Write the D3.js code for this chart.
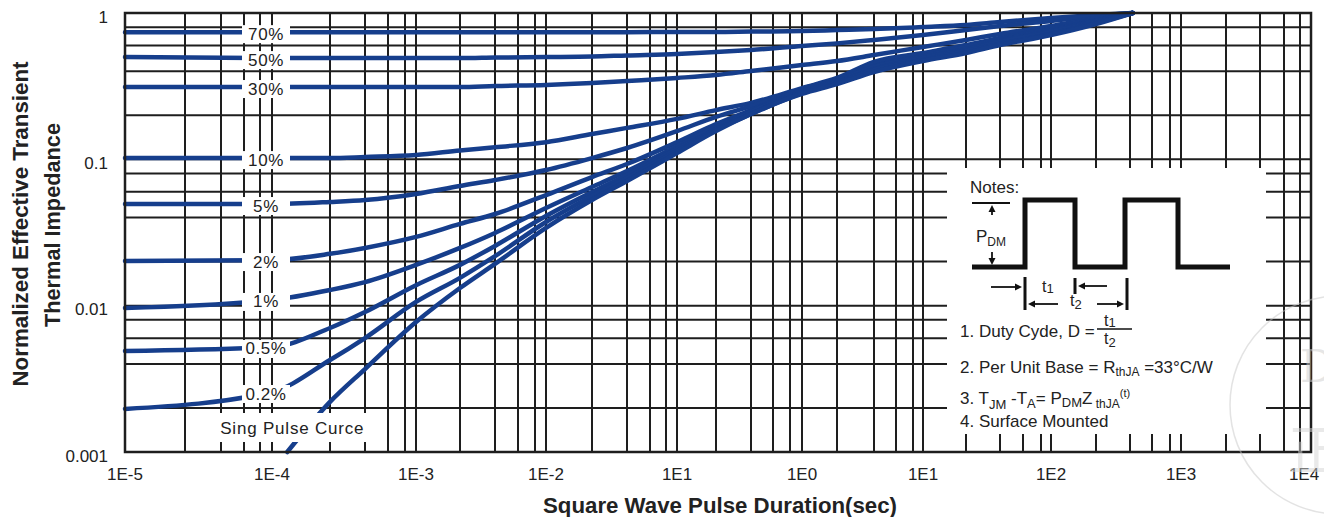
<!DOCTYPE html>
<html><head><meta charset="utf-8">
<script src="https://cdn.jsdelivr.net/npm/d3@7"></script>
<style>
html,body{margin:0;padding:0;background:#fff;}
svg{display:block;font-family:Arial,"Liberation Sans",sans-serif;}
</style></head><body>
<svg id="chart" width="1324" height="517"></svg>
<script>
// ---------------- DATA ----------------
const xTicks = [1e-5,1e-4,1e-3,1e-2,1e-1,1,10,100,1000,10000];
const xTickLabels = ["1E-5","1E-4","1E-3","1E-2","1E1","1E0","1E1","1E2","1E3","1E4"];
const yTicks = [1,0.1,0.01,0.001];
const yTickLabels = ["1","0.1","0.01","0.001"];
const gridMultipliers = [2,4,6,8];

const xs = [1e-5,1e-4,2e-4,4e-4,1e-3,2e-3,4e-3,1e-2,2e-2,4e-2,0.1,0.2,0.4,1,2,4,10,20,40,100,200,420];
const d70 = [0.74,0.74,0.74,0.74,0.74,0.74,0.74,0.74,0.74,0.74,0.742,0.742,0.747,0.753,0.765,0.777,0.802,0.828,0.868,0.924,0.97,1.0];
const d50 = [0.50,0.492,0.492,0.492,0.492,0.492,0.496,0.50,0.504,0.513,0.525,0.541,0.559,0.595,0.62,0.654,0.707,0.765,0.815,0.882,0.954,1.0];
const d30 = [0.312,0.312,0.312,0.312,0.312,0.312,0.317,0.322,0.332,0.343,0.36,0.377,0.402,0.441,0.47,0.516,0.586,0.654,0.719,0.815,0.924,1.0];
const d10 = [0.102,0.102,0.102,0.1037,0.107,0.115,0.121,0.131,0.149,0.164,0.189,0.217,0.243,0.307,0.36,0.463,0.533,0.604,0.675,0.79,0.91,1.0];
const d5  = [0.0495,0.0495,0.0511,0.0527,0.058,0.0658,0.0722,0.0845,0.102,0.1195,0.156,0.195,0.231,0.303,0.354,0.448,0.525,0.595,0.664,0.777,0.896,1.0];
const d2  = [0.0202,0.0205,0.0226,0.0248,0.0295,0.0362,0.0423,0.057,0.0757,0.0929,0.131,0.174,0.217,0.298,0.348,0.434,0.508,0.586,0.654,0.765,0.882,1.0];
const d1  = [0.00964,0.01094,0.0128,0.0145,0.019,0.0248,0.0314,0.0465,0.0647,0.0832,0.123,0.166,0.214,0.293,0.343,0.428,0.5,0.568,0.644,0.753,0.882,1.0];
const d05 = [0.0049,0.00522,0.00704,0.00905,0.0138,0.019,0.0256,0.041,0.0598,0.0782,0.118,0.161,0.211,0.288,0.338,0.414,0.492,0.559,0.634,0.742,0.868,1.0];
const d02 = [0.00197,0.00257,0.00425,0.00601,0.0106,0.0155,0.0218,0.0373,0.0561,0.0746,0.114,0.159,0.204,0.284,0.332,0.408,0.477,0.55,0.614,0.719,0.854,1.0];
const singleX = [1.2e-4,2e-4,4e-4,1e-3,2e-3,4e-3,1e-2,2e-2,4e-2,0.1,0.2,0.4,1,2,4,10,20,40,100,200,420];
const singleZ = [0.001,0.0022,0.00369,0.00773,0.0132,0.0193,0.034,0.0527,0.0711,0.1105,0.156,0.204,0.28,0.327,0.395,0.47,0.533,0.604,0.707,0.841,1.0];
const dutyLabels = ["70%","50%","30%","10%","5%","2%","1%","0.5%","0.2%"];
const singleLabel = "Sing Pulse Curce";

// ---------------- LAYOUT ----------------
const svg = d3.select("#chart");
const L = 125, R = 1311, T = 13, B = 452;
const lineColor = "#163e8c", gridColor = "#1e1e1e", textColor = "#222";

// x axis in the reference is a log axis with uneven spacing -> piecewise log scale
const xDomain = [];
xTicks.slice(0, -1).forEach(d => { xDomain.push(d); gridMultipliers.forEach(m => xDomain.push(m * d)); });
xDomain.push(xTicks[xTicks.length - 1]);
const xRange = [125,185,221,244,260, 272,330,365,388,405, 416,460,495,518,535, 546,592,627,650,666,
                677,716,751,773,790, 802,837,874,896,913, 923,966,1000,1023,1041, 1051,1096,1130,1152,1170,
                1181,1226,1260,1284,1300, 1311];
const x = d3.scaleLog().domain(xDomain).range(xRange);
const y = d3.scaleLog().domain([0.001, 1]).range([B, T]);

// grid
const gGrid = svg.append("g");
gGrid.selectAll("line.v").data(xDomain.slice(1, -1)).join("line")
  .attr("x1", d => x(d)).attr("x2", d => x(d)).attr("y1", T).attr("y2", B)
  .attr("stroke", gridColor).attr("stroke-width", 2);
const yGrid = [];
[0.001, 0.01, 0.1].forEach(d => { gridMultipliers.forEach(m => yGrid.push(m * d)); if (d > 0.001) yGrid.push(d); });
gGrid.selectAll("line.h").data(yGrid).join("line")
  .attr("x1", L).attr("x2", R).attr("y1", d => y(d)).attr("y2", d => y(d))
  .attr("stroke", gridColor).attr("stroke-width", 2);

// curves
const series = [d70, d50, d30, d10, d5, d2, d1, d05, d02].map((z, i) => ({label: dutyLabels[i], pts: xs.map((xv, j) => [xv, z[j]])}));
series.push({label: null, pts: singleX.map((xv, j) => [xv, singleZ[j]])});
const line = d3.line().x(d => x(d[0])).y(d => y(d[1])).curve(d3.curveMonotoneX);
svg.append("g").selectAll("path").data(series).join("path")
  .attr("d", d => line(d.pts)).attr("fill", "none")
  .attr("stroke", lineColor).attr("stroke-width", 4.5).attr("stroke-linecap", "round");

// curve labels
const lblX = x(1e-4);
const gLbl = svg.append("g");
series.filter(s => s.label).forEach(s => {
  const ly = y(s.pts[1][1]) + 2;
  gLbl.append("rect").attr("x", lblX - 30).attr("y", ly - 9).attr("width", 48).attr("height", 18).attr("fill", "#fff");
  gLbl.append("text").attr("x", lblX - 6).attr("y", ly).attr("text-anchor", "middle")
    .attr("dominant-baseline", "central").attr("font-size", 17).style("letter-spacing", "0.6px")
    .attr("fill", textColor).text(s.label);
});
const sx = x(singleX[0]) + 5, sy = y(singleZ[0]) - 24;
gLbl.append("rect").attr("x", sx - 80).attr("y", sy - 15).attr("width", 160).attr("height", 29).attr("fill", "#fff");
gLbl.append("text").attr("x", sx).attr("y", sy).attr("text-anchor", "middle")
  .attr("dominant-baseline", "central").attr("font-size", 17).style("letter-spacing", "0.8px")
  .attr("fill", textColor).text(singleLabel);

// notes box
const gN = svg.append("g").attr("fill", textColor).attr("font-size", 17);
gN.append("rect").attr("x", 947).attr("y", 168).attr("width", 319).attr("height", 266).attr("fill", "#fff");
gN.append("text").attr("x", 970).attr("y", 193).text("Notes:");
gN.append("path").attr("d", "M972,267H1025V200H1075V267H1125V200H1178V267H1230")
  .attr("fill", "none").attr("stroke", "#111").attr("stroke-width", 5);
gN.append("path").attr("d", "M972,203H1010").attr("stroke", "#111").attr("stroke-width", 2);
function arrow(x1, y1, x2, y2) {
  const a = Math.atan2(y2 - y1, x2 - x1), h = 7, w = 3.5;
  gN.append("line").attr("x1", x1).attr("y1", y1).attr("x2", x2 - Math.cos(a) * h * 0.6).attr("y2", y2 - Math.sin(a) * h * 0.6)
    .attr("stroke", "#111").attr("stroke-width", 1.8);
  const bx = x2 - Math.cos(a) * h, by = y2 - Math.sin(a) * h;
  gN.append("path").attr("d", `M${x2},${y2}L${bx - Math.sin(a) * w},${by + Math.cos(a) * w}L${bx + Math.sin(a) * w},${by - Math.cos(a) * w}Z`)
    .attr("fill", "#111");
}
arrow(992, 215, 992, 205);
arrow(992, 252, 992, 265);
const pdm = gN.append("text").attr("x", 976).attr("y", 242);
pdm.append("tspan").text("P");
pdm.append("tspan").attr("font-size", 12).attr("dy", 4).text("DM");
[[1025, 277, 310], [1075, 278, 294], [1127, 278, 310]].forEach(b =>
  gN.append("line").attr("x1", b[0]).attr("x2", b[0]).attr("y1", b[1]).attr("y2", b[2]).attr("stroke", "#111").attr("stroke-width", 3));
arrow(991, 287, 1022, 287);
arrow(1058, 304, 1028, 304);
arrow(1107, 286, 1078, 286);
arrow(1097, 304, 1124, 304);
const t1 = gN.append("text").attr("x", 1042).attr("y", 292).attr("font-size", 16);
t1.append("tspan").text("t"); t1.append("tspan").attr("font-size", 13).attr("dy", 1).text("1");
const t2 = gN.append("text").attr("x", 1070).attr("y", 306).attr("font-size", 16);
t2.append("tspan").text("t"); t2.append("tspan").attr("font-size", 13).attr("dy", 3).text("2");
gN.append("text").attr("x", 960).attr("y", 337).text("1. Duty Cyde, D =");
const f1 = gN.append("text").attr("x", 1104).attr("y", 326).attr("font-size", 16);
f1.append("tspan").text("t"); f1.append("tspan").attr("font-size", 13).attr("dy", 1).text("1");
gN.append("line").attr("x1", 1097).attr("x2", 1132).attr("y1", 329).attr("y2", 329).attr("stroke", "#111").attr("stroke-width", 1.5);
const f2 = gN.append("text").attr("x", 1104).attr("y", 344).attr("font-size", 16);
f2.append("tspan").text("t"); f2.append("tspan").attr("font-size", 13).attr("dy", 3).text("2");
const n2 = gN.append("text").attr("x", 960).attr("y", 373);
n2.append("tspan").text("2. Per Unit Base = R");
n2.append("tspan").attr("font-size", 12).attr("dy", 3).text("thJA");
n2.append("tspan").attr("dy", -3).text(" =33°C/W");
const n3 = gN.append("text").attr("x", 960).attr("y", 404);
n3.append("tspan").text("3. T");
n3.append("tspan").attr("font-size", 13).attr("dy", 5).text("JM");
n3.append("tspan").attr("dy", -5).text(" -T");
n3.append("tspan").attr("font-size", 13).attr("dy", 4).text("A");
n3.append("tspan").attr("dy", -4).text("= P");
n3.append("tspan").attr("font-size", 13).attr("dy", 3).text("DM");
n3.append("tspan").attr("dy", -3).text("Z");
n3.append("tspan").attr("font-size", 12).attr("dy", 4).text(" thJA");
n3.append("tspan").attr("font-size", 11).attr("dy", -11).text("(t)");
gN.append("text").attr("x", 960).attr("y", 427).text("4. Surface Mounted");

// frame
svg.append("rect").attr("x", L).attr("y", T).attr("width", R - L).attr("height", B - T)
  .attr("fill", "none").attr("stroke", gridColor).attr("stroke-width", 2.5);

// tick labels
svg.append("g").selectAll("text").data(xTicks).join("text")
  .attr("x", d => Math.min(x(d), 1304)).attr("y", 474).attr("text-anchor", "middle").attr("dominant-baseline", "central")
  .attr("font-size", 17).attr("fill", textColor).text((d, i) => xTickLabels[i]);
svg.append("g").selectAll("text").data(yTicks).join("text")
  .attr("x", 108).attr("y", d => y(d) + 4).attr("text-anchor", "end").attr("dominant-baseline", "central")
  .attr("font-size", 17).attr("fill", textColor).text((d, i) => yTickLabels[i]);

// axis titles
svg.append("text").attr("transform", "translate(28,224) rotate(-90)").attr("text-anchor", "middle")
  .attr("font-size", 22).attr("font-weight", "bold").attr("fill", textColor)
  .attr("textLength", 325).attr("lengthAdjust", "spacingAndGlyphs").text("Normalized Effective Transient");
svg.append("text").attr("transform", "translate(60,225) rotate(-90)").attr("text-anchor", "middle")
  .attr("font-size", 22).attr("font-weight", "bold").attr("fill", textColor)
  .attr("textLength", 204).attr("lengthAdjust", "spacingAndGlyphs").text("Thermal Impedance");
svg.append("text").attr("x", 720).attr("y", 513).attr("text-anchor", "middle")
  .attr("font-size", 22).attr("font-weight", "bold").attr("fill", textColor)
  .attr("textLength", 354).attr("lengthAdjust", "spacingAndGlyphs").text("Square Wave Pulse Duration(sec)");

// faint watermark
const gW = svg.append("g").attr("opacity", 0.5);
gW.append("circle").attr("cx", 1339).attr("cy", 405).attr("r", 109).attr("fill", "none").attr("stroke", "#c8c8c8").attr("stroke-width", 1.5);
gW.append("text").attr("x", 1300).attr("y", 382).attr("font-size", 44).attr("font-family", "DejaVu Serif").attr("fill", "#cfcfcf").text("D");
gW.append("text").attr("x", 1288).attr("y", 470).attr("font-size", 54).attr("font-family", "Noto Sans CJK SC").attr("fill", "#d4d4d4").text("正");
</script>
</body></html>
